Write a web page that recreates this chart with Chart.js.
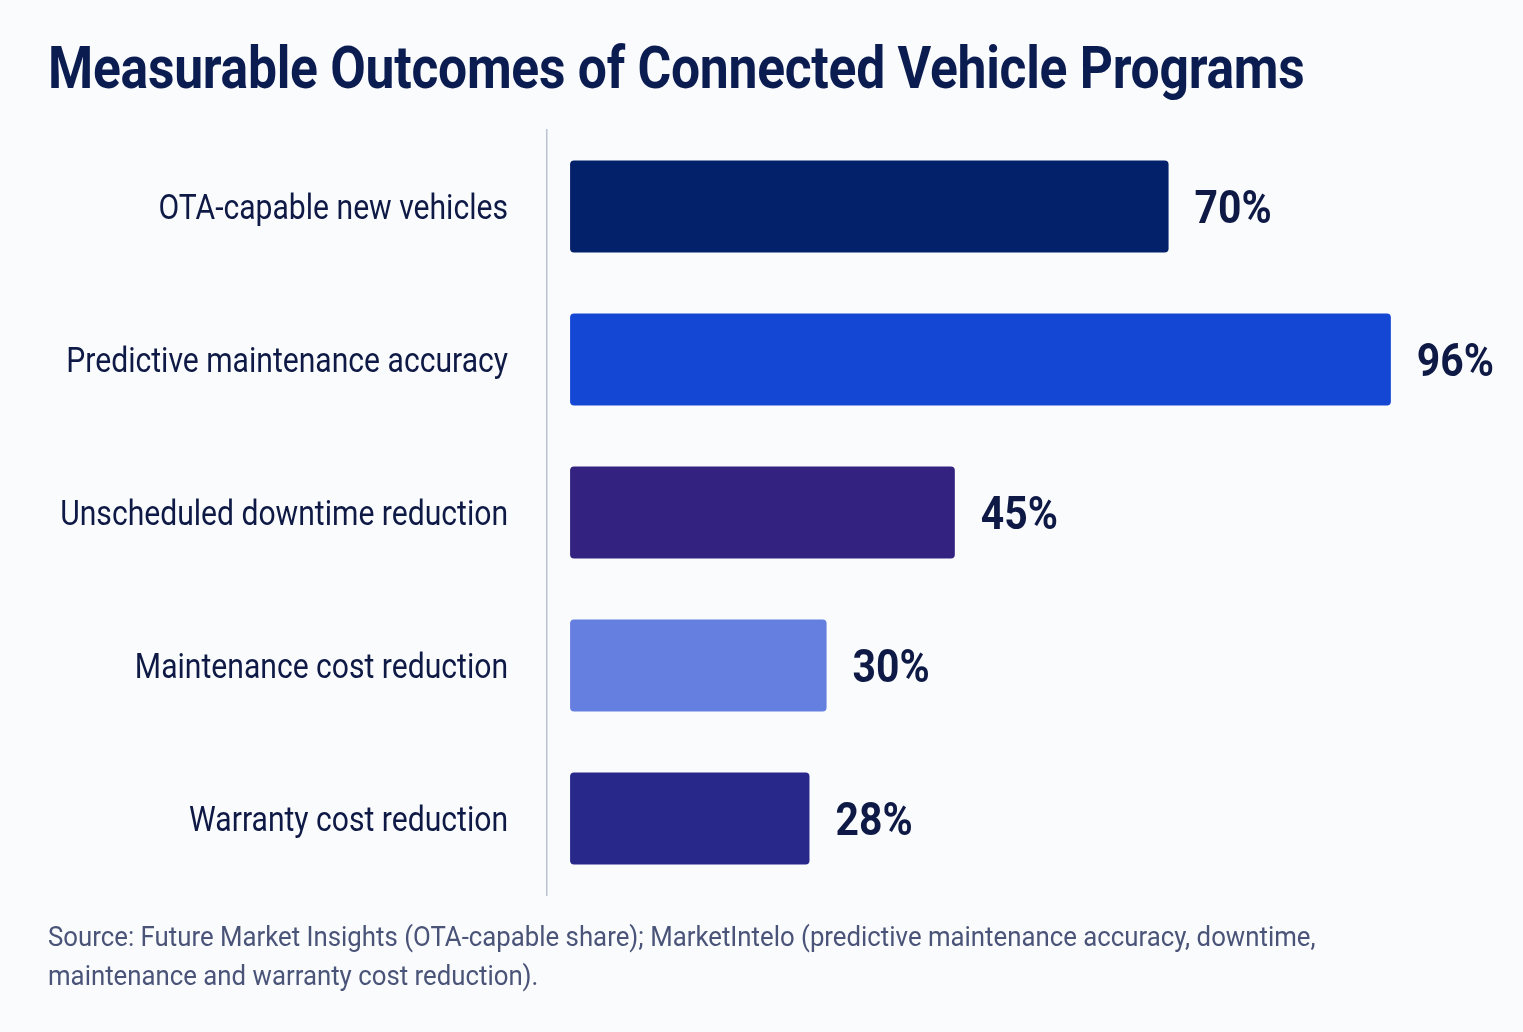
<!DOCTYPE html>
<html>
<head>
<meta charset="utf-8">
<script src="https://cdn.jsdelivr.net/npm/chart.js@4.4.1/dist/chart.umd.min.js"></script>
<style>
  html, body { margin: 0; padding: 0; background: #FAFBFD; }
  body { width: 1523px; height: 1032px; position: relative; overflow: hidden; font-family: Roboto, "Noto Sans", sans-serif; }
  #title { position: absolute; left: 48px; top: 32px; margin: 0; font-size: 60px; font-weight: 700; color: #0B1C50; white-space: nowrap; transform: scaleX(0.86); transform-origin: left top; letter-spacing: -0.3px; }
  #source { position: absolute; left: 48px; top: 918px; margin: 0; font-size: 27px; line-height: 39px; color: #4A5478; white-space: nowrap; transform: scaleX(0.955); transform-origin: left top; }
  #wrap { position: absolute; left: 0; top: 100px; width: 1523px; height: 820px; }
</style>
</head>
<body>
<h1 id="title">Measurable Outcomes of Connected Vehicle Programs</h1>
<div id="wrap"><canvas id="c"></canvas></div>
<p id="source">Source: Future Market Insights (OTA-capable share); MarketIntelo (predictive maintenance accuracy, downtime,<br>maintenance and warranty cost reduction).</p>
<script>
const categories = [
  "OTA-capable new vehicles",
  "Predictive maintenance accuracy",
  "Unscheduled downtime reduction",
  "Maintenance cost reduction",
  "Warranty cost reduction"
];
const values = [70, 96, 45, 30, 28];
const valueLabels = ["70%", "96%", "45%", "30%", "28%"];
const barColors = ["#03216A", "#1447D4", "#33227F", "#657FE0", "#28288A"];

const TEXT = "#0E1A45";
const LABEL_SCALE = 0.86;

const labelPlugin = {
  id: "labels",
  afterDatasetsDraw(chart) {
    const ctx = chart.ctx;
    const yScale = chart.scales.y;
    const meta = chart.getDatasetMeta(0);
    ctx.save();
    ctx.fillStyle = TEXT;
    ctx.textBaseline = "middle";
    categories.forEach((cat, i) => {
      const y = yScale.getPixelForValue(i);
      ctx.save();
      ctx.translate(chart.chartArea.left - 39, y + 4);
      ctx.scale(LABEL_SCALE, 1);
      ctx.font = "400 35px Roboto";
      ctx.textAlign = "right";
      ctx.fillText(cat, 0, 0);
      ctx.restore();

      const bar = meta.data[i];
      ctx.save();
      ctx.translate(bar.x + 26, y + 5);
      ctx.scale(0.87, 1);
      ctx.font = "700 47px Roboto";
      ctx.textAlign = "left";
      ctx.fillText(valueLabels[i], 0, 0);
      ctx.restore();
    });
    ctx.restore();
  }
};

new Chart(document.getElementById("c"), {
  type: "bar",
  data: {
    labels: categories,
    datasets: [{
      data: values,
      backgroundColor: barColors,
      borderRadius: 4,
      borderSkipped: false,
      barPercentage: 0.6,
      categoryPercentage: 1.0
    }]
  },
  options: {
    indexAxis: "y",
    responsive: true,
    maintainAspectRatio: false,
    animation: false,
    layout: { padding: { left: 547, right: 18, top: 30, bottom: 25 } },
    plugins: { legend: { display: false }, tooltip: { enabled: false }, title: { display: false } },
    scales: {
      x: { display: false, min: -2.7, max: 109.35 },
      y: {
        display: true,
        grid: { display: false, drawTicks: false },
        ticks: { display: false },
        border: { display: true, color: "#BAC1D3", width: 1.5 },
        afterFit(axis) { axis.width = 0; }
      }
    }
  },
  plugins: [labelPlugin]
});
</script>
</body>
</html>
